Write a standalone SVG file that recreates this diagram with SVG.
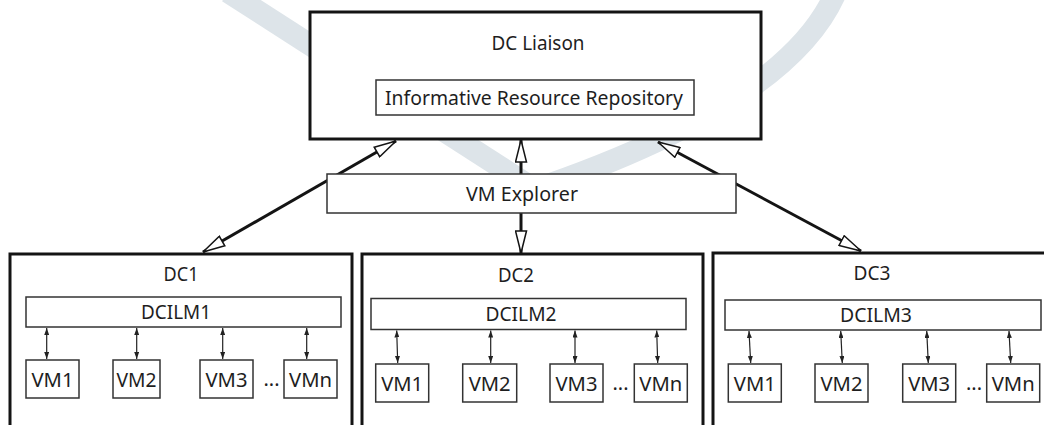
<svg xmlns="http://www.w3.org/2000/svg" width="1044" height="425" viewBox="0 0 1044 425">
<style>
text{font-family:"Noto Sans","Open Sans","Liberation Sans",sans-serif;font-size:20px;fill:#1e1e1e}
.big{fill:#fff;stroke:#141414;stroke-width:3}
.box{fill:#fff;stroke:#333;stroke-width:1.5}
.thick{stroke:#141414;stroke-width:3;fill:none}
.thin{stroke:#222;stroke-width:1.2;fill:none}
.wm{stroke:#dde4e9;fill:none;stroke-width:22}
</style>
<defs>
<marker id="hollow" viewBox="0 0 24 13" refX="23" refY="6.5" markerWidth="24" markerHeight="13" markerUnits="userSpaceOnUse" orient="auto-start-reverse">
<path d="M1,1 L23,6.5 L1,12 Z" fill="#fff" stroke="#141414" stroke-width="1.5"/>
</marker>
<marker id="small" viewBox="0 0 7 5" refX="7" refY="2.5" markerWidth="7" markerHeight="5" markerUnits="userSpaceOnUse" orient="auto-start-reverse">
<path d="M0,0 L7,2.5 L0,5 Z" fill="#222"/>
</marker>
</defs>
<rect width="1044" height="425" fill="#fff"/>
<g id="watermark">
<path class="wm" d="M228,-8 L528,185"/>
<path class="wm" d="M836,-8 Q790,100 548,185"/>
</g>
<g id="connectors">
<path class="thick" d="M203,252 L396,141" marker-start="url(#hollow)" marker-end="url(#hollow)"/>
<path class="thick" d="M658,142 L861,251" marker-start="url(#hollow)" marker-end="url(#hollow)"/>
<path class="thick" d="M521,174 L521,140" marker-end="url(#hollow)"/>
<path class="thick" d="M521,213 L521,253" marker-end="url(#hollow)"/>
</g>
<g id="dc-liaison">
<rect class="big" x="310" y="12" width="451" height="127"/>
<text x="538" y="50" text-anchor="middle" textLength="93" lengthAdjust="spacingAndGlyphs">DC Liaison</text>
</g>
<g id="irr">
<rect class="box" x="376" y="80" width="318" height="35"/>
<text x="534" y="105" text-anchor="middle" textLength="298" lengthAdjust="spacingAndGlyphs">Informative Resource Repository</text>
</g>
<g id="vm-explorer">
<rect class="box" x="327" y="174" width="409" height="39"/>
<text x="522" y="201" text-anchor="middle" textLength="112" lengthAdjust="spacingAndGlyphs">VM Explorer</text>
</g>
<g id="dc1">
<rect class="big" x="10" y="254" width="342" height="190"/>
<text x="181" y="281" text-anchor="middle" textLength="35" lengthAdjust="spacingAndGlyphs">DC1</text>
<rect class="box" x="26" y="297" width="315" height="30"/>
<text x="176" y="318.5" text-anchor="middle" textLength="70" lengthAdjust="spacingAndGlyphs">DCILM1</text>
<g class="thin">
<path d="M46.7,328 L46.7,359" marker-start="url(#small)" marker-end="url(#small)"/>
<path d="M136.7,328 L136.7,359" marker-start="url(#small)" marker-end="url(#small)"/>
<path d="M222.7,328 L222.7,359" marker-start="url(#small)" marker-end="url(#small)"/>
<path d="M306.7,328 L306.7,359" marker-start="url(#small)" marker-end="url(#small)"/>
</g>
<rect class="box" x="26" y="360" width="53" height="38"/>
<text x="52.5" y="387" text-anchor="middle" textLength="42" lengthAdjust="spacingAndGlyphs">VM1</text>
<rect class="box" x="113" y="360" width="47" height="38"/>
<text x="136.5" y="387" text-anchor="middle" textLength="40" lengthAdjust="spacingAndGlyphs">VM2</text>
<rect class="box" x="200" y="360" width="53" height="38"/>
<text x="226.5" y="387" text-anchor="middle" textLength="42" lengthAdjust="spacingAndGlyphs">VM3</text>
<text x="271.5" y="386" text-anchor="middle">...</text>
<rect class="box" x="284" y="360" width="53" height="38"/>
<text x="310.5" y="387" text-anchor="middle" textLength="43" lengthAdjust="spacingAndGlyphs">VMn</text>
</g>
<g id="dc2">
<rect class="big" x="362" y="254" width="341" height="190"/>
<text x="516" y="282" text-anchor="middle" textLength="36" lengthAdjust="spacingAndGlyphs">DC2</text>
<rect class="box" x="371" y="298.5" width="315" height="31"/>
<text x="521" y="321" text-anchor="middle" textLength="71" lengthAdjust="spacingAndGlyphs">DCILM2</text>
<g class="thin">
<path d="M396.7,330.5 L397.7,363" marker-start="url(#small)" marker-end="url(#small)"/>
<path d="M490.7,330.5 L490.7,363" marker-start="url(#small)" marker-end="url(#small)"/>
<path d="M575,330.5 L575,363" marker-start="url(#small)" marker-end="url(#small)"/>
<path d="M656.7,330.5 L657.7,363" marker-start="url(#small)" marker-end="url(#small)"/>
</g>
<rect class="box" x="375.7" y="364" width="53" height="38"/>
<text x="402.2" y="391" text-anchor="middle" textLength="42" lengthAdjust="spacingAndGlyphs">VM1</text>
<rect class="box" x="462.7" y="364" width="54" height="38"/>
<text x="489.7" y="391" text-anchor="middle" textLength="42" lengthAdjust="spacingAndGlyphs">VM2</text>
<rect class="box" x="550" y="364" width="53" height="38"/>
<text x="576.5" y="391" text-anchor="middle" textLength="42" lengthAdjust="spacingAndGlyphs">VM3</text>
<text x="620.5" y="390" text-anchor="middle">...</text>
<rect class="box" x="634.3" y="364" width="53" height="38"/>
<text x="660.8" y="391" text-anchor="middle" textLength="43" lengthAdjust="spacingAndGlyphs">VMn</text>
</g>
<g id="dc3">
<rect class="big" x="713" y="253" width="400" height="190"/>
<text x="872" y="280" text-anchor="middle" textLength="37" lengthAdjust="spacingAndGlyphs">DC3</text>
<rect class="box" x="725" y="300" width="316" height="30"/>
<text x="876" y="322" text-anchor="middle" textLength="72" lengthAdjust="spacingAndGlyphs">DCILM3</text>
<g class="thin">
<path d="M749,331 L750.7,363" marker-start="url(#small)" marker-end="url(#small)"/>
<path d="M840.7,331 L842.3,363" marker-start="url(#small)" marker-end="url(#small)"/>
<path d="M926.7,331 L928.3,363" marker-start="url(#small)" marker-end="url(#small)"/>
<path d="M1009,331 L1010.7,363" marker-start="url(#small)" marker-end="url(#small)"/>
</g>
<rect class="box" x="728.3" y="364" width="53" height="38"/>
<text x="754.8" y="391" text-anchor="middle" textLength="42" lengthAdjust="spacingAndGlyphs">VM1</text>
<rect class="box" x="815" y="364" width="53" height="38"/>
<text x="841.5" y="391" text-anchor="middle" textLength="42" lengthAdjust="spacingAndGlyphs">VM2</text>
<rect class="box" x="902.7" y="364" width="53" height="38"/>
<text x="929.2" y="391" text-anchor="middle" textLength="42" lengthAdjust="spacingAndGlyphs">VM3</text>
<text x="974" y="390" text-anchor="middle">...</text>
<rect class="box" x="986.7" y="364" width="53" height="38"/>
<text x="1013.2" y="391" text-anchor="middle" textLength="43" lengthAdjust="spacingAndGlyphs">VMn</text>
</g>
</svg>
